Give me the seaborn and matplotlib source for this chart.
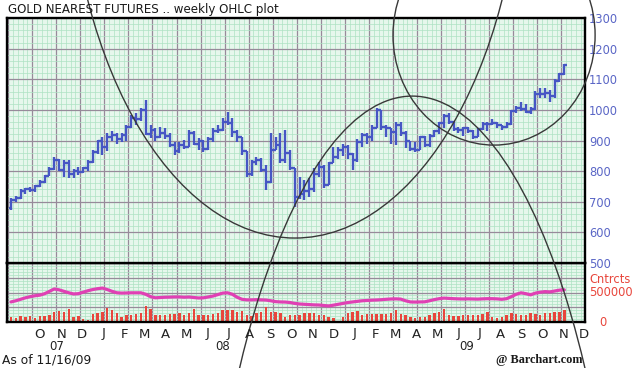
import pandas as pd
import matplotlib
matplotlib.use("Agg")
import matplotlib.pyplot as plt
import matplotlib.transforms as mtransforms
from matplotlib.patches import Ellipse
from matplotlib.ticker import MultipleLocator, NullFormatter
import seaborn as sns

# weekly OHLC, first bar = week of 2007-09-03, last = week of 2009-11-16
start = pd.Timestamp("2007-09-03")
opens = [680, 705, 712, 735, 742, 738, 750, 765, 785, 808,
         835, 805, 825, 790, 800, 797, 810, 830, 862, 897,
         880, 912, 918, 905, 918, 945, 975, 970, 1000, 920,
         935, 912, 925, 915, 885, 865, 885, 880, 925, 890,
         900, 872, 905, 930, 935, 960, 958, 928, 912, 865,
         790, 830, 835, 805, 765, 870, 885, 835, 860, 810,
         715, 725, 735, 740, 790, 815, 755, 825, 845, 870,
         880, 855, 837, 895, 918, 912, 940, 1000, 945, 940,
         928, 952, 925, 897, 872, 870, 910, 885, 915, 930,
         958, 980, 962, 938, 933, 940, 930, 912, 937, 953,
         955, 957, 949, 943, 955, 995, 1006, 1004, 992, 1004,
         1051, 1052, 1056, 1046, 1095, 1118]
highs = [712, 718, 742, 745, 748, 755, 771, 787, 813, 847,
         838, 836, 836, 806, 812, 814, 836, 869, 902, 913,
         925, 930, 923, 925, 950, 983, 990, 1006, 1033, 950,
         940, 945, 940, 923, 896, 896, 901, 934, 930, 907,
         901, 912, 940, 950, 972, 994, 972, 934, 912, 866,
         836, 847, 842, 820, 925, 912, 923, 935, 869, 810,
         782, 771, 776, 809, 830, 820, 830, 880, 880, 890,
         885, 860, 905, 925, 925, 950, 1007, 1000, 950, 940,
         960, 960, 930, 900, 895, 915, 915, 920, 935, 960,
         985, 990, 965, 945, 945, 945, 935, 940, 960, 960,
         970, 960, 950, 960, 1000, 1012, 1025, 1020, 1010, 1062,
         1072, 1070, 1065, 1100, 1120, 1150]
lows = [673, 700, 710, 725, 732, 732, 748, 761, 783, 805,
        800, 782, 776, 776, 787, 793, 800, 828, 855, 852,
        865, 900, 888, 895, 900, 940, 950, 965, 918, 907,
        900, 907, 905, 880, 852, 860, 872, 878, 885, 869,
        863, 870, 895, 923, 930, 950, 912, 896, 852, 782,
        785, 820, 798, 738, 760, 870, 825, 825, 804, 684,
        710, 706, 716, 733, 780, 745, 755, 825, 840, 850,
        840, 805, 830, 880, 890, 900, 940, 935, 910, 890,
        885, 915, 875, 865, 862, 868, 880, 880, 910, 920,
        940, 955, 930, 925, 915, 925, 905, 910, 935, 930,
        950, 940, 935, 940, 950, 990, 995, 990, 985, 1000,
        1040, 1040, 1025, 1040, 1090, 1115]
closes = [705, 712, 735, 742, 738, 750, 765, 785, 808, 835,
          805, 825, 790, 800, 797, 810, 830, 862, 897, 880,
          912, 918, 905, 918, 945, 975, 970, 1000, 920, 935,
          912, 925, 915, 885, 865, 885, 880, 925, 890, 900,
          872, 905, 930, 935, 960, 958, 928, 912, 865, 790,
          830, 835, 805, 765, 870, 885, 835, 860, 810, 715,
          725, 735, 740, 790, 815, 755, 825, 845, 870, 880,
          855, 837, 895, 918, 912, 940, 1000, 945, 940, 928,
          952, 925, 897, 872, 870, 910, 885, 915, 930, 958,
          980, 962, 938, 933, 940, 930, 912, 937, 953, 955,
          957, 949, 943, 955, 995, 1006, 1004, 992, 1004, 1051,
          1052, 1056, 1046, 1095, 1118, 1145]
# weekly volume, thousands of contracts
volume = [90, 73, 107, 90, 102, 62, 102, 102, 119, 175,
          192, 175, 220, 90, 96, 45, 34, 141, 147, 175,
          232, 203, 147, 90, 124, 119, 130, 147, 271, 215,
          119, 119, 119, 130, 130, 147, 119, 147, 215, 119,
          119, 119, 136, 147, 203, 203, 203, 175, 192, 119,
          102, 158, 175, 249, 175, 175, 158, 90, 119, 119,
          119, 147, 147, 147, 119, 119, 90, 62, 23, 90,
          147, 170, 192, 119, 130, 136, 136, 130, 136, 158,
          203, 130, 119, 79, 62, 90, 90, 119, 147, 175,
          215, 119, 102, 102, 119, 119, 119, 119, 136, 175,
          90, 62, 90, 119, 147, 136, 119, 119, 147, 136,
          119, 147, 158, 175, 175, 203]
volume = [v * 1000 for v in volume]
# open interest, thousands of contracts
open_int = [340, 360, 385, 410, 430, 445, 455, 480, 520, 560,
            545, 520, 495, 475, 480, 505, 530, 550, 565, 575,
            550, 520, 495, 490, 492, 495, 495, 495, 470, 430,
            410, 415, 420, 422, 425, 425, 420, 424, 415, 407,
            410, 425, 440, 465, 490, 495, 470, 420, 385, 375,
            375, 378, 375, 372, 360, 345, 340, 338, 330, 315,
            305, 300, 295, 290, 288, 280, 272, 285, 300, 315,
            330, 340, 350, 360, 365, 370, 373, 378, 385, 390,
            392, 388, 360, 340, 338, 340, 342, 360, 380, 395,
            405, 400, 395, 392, 390, 392, 390, 388, 392, 395,
            395, 392, 385, 395, 430, 470, 495, 480, 460, 490,
            505, 515, 510, 525, 540, 545]
open_int = [v * 1000 for v in open_int]

month_letters = ["O", "N", "D", "J", "F", "M", "A", "M", "J", "J", "A", "S",
                 "O", "N", "D", "J", "F", "M", "A", "M", "J", "J", "A", "S",
                 "O", "N", "D"]
month_dates = pd.date_range("2007-10-01", periods=27, freq="MS") + pd.Timedelta(days=14)
year_labels = ["07", "08", "09"]
year_pos = [9.4, 43.9, 94.8]  # weeks from start

# hand drawn curves: center (weeks, price), width (weeks), height (price)
curves = [((59.0, 1917), 94.8, 2671),
          ((83.4, -1126), 89.0, 4342),
          ((100.4, 1244), 42.0, 718)]

weeks = list(range(len(opens)))
month_pos = [(d - start).days / 7 for d in month_dates]

sns.set_style("white")
plt.rcParams["font.family"] = ["DejaVu Sans"]

blue = "#4656c4"
red = "#e8463c"
pink = "#e040b4"
bg = "#e6f7ec"
minor_c = "#ade2c3"
major_c = "#978a9a"

fig = plt.figure(figsize=(6.4, 3.68), dpi=100)
W, H = 640, 368
ax = fig.add_axes([7 / W, 1 - 263 / H, 578 / W, 245 / H], zorder=3)
axv = fig.add_axes([7 / W, 1 - 322 / H, 578 / W, 59 / H], zorder=2)

for a in (ax, axv):
    a.set_facecolor(bg)
    a.set_xlim(-0.83, 119.3)
    a.xaxis.set_major_locator(MultipleLocator(5, offset=4.4))
    a.xaxis.set_minor_locator(MultipleLocator(1, offset=0.4))
    a.grid(which="minor", color=minor_c, lw=0.5)
    a.grid(which="major", color=major_c, lw=0.9)
    a.set_axisbelow(True)
    a.xaxis.set_major_formatter(NullFormatter())
    a.tick_params(axis="both", which="both", length=0)
    for s in a.spines.values():
        s.set_visible(True)
        s.set_color("black")
        s.set_linewidth(1.7)

# price panel
ax.set_ylim(500, 1300)
ax.yaxis.set_major_locator(MultipleLocator(100))
ax.yaxis.set_minor_locator(MultipleLocator(20))
ax.yaxis.tick_right()
ax.tick_params(axis="y", pad=3, labelcolor="#5a66c6", labelsize=8.3)
ax.vlines(weeks, lows, highs, color=blue, lw=1.7)
ax.hlines(opens, [w - 0.5 for w in weeks], weeks, color=blue, lw=1.7)
ax.hlines(closes, weeks, [w + 0.5 for w in weeks], color=blue, lw=1.7)

for (c, wd, ht) in curves:
    ax.add_patch(Ellipse(c, wd, ht, fill=False, ec="#383838", lw=1.0,
                         clip_on=False, zorder=10))

# volume panel
axv.set_ylim(0, 1000000)
axv.yaxis.set_major_locator(MultipleLocator(250000))
axv.yaxis.set_minor_locator(MultipleLocator(50000))
axv.yaxis.set_major_formatter(NullFormatter())
axv.bar(weeks, volume, width=0.5, color=red, linewidth=0)
sns.lineplot(x=weeks, y=open_int, ax=axv, color=pink, lw=2.3)
axv.set_xlabel("")
axv.set_ylabel("")

tr = mtransforms.blended_transform_factory(axv.transAxes, axv.transData)
axv.text(1.007, 712000, "Cntrcts", transform=tr, color=red, fontsize=8.3,
         ha="left", va="center")
axv.text(1.007, 500000, "500000", transform=tr, color=red, fontsize=8.3,
         ha="left", va="center")
axv.text(1.031, 0, "0", transform=tr, color=red, fontsize=8.3,
         ha="center", va="center")

# month / year labels
tx = mtransforms.blended_transform_factory(axv.transData, fig.transFigure)
for p, m in zip(month_pos, month_letters):
    fig.text(p, 1 - 334 / H, m, transform=tx, ha="center", va="center",
             fontsize=9.5, color="#222222")
for p, y in zip(year_pos, year_labels):
    fig.text(p, 1 - 347 / H, y, transform=tx, ha="center", va="center",
             fontsize=8.5, color="#222222")

fig.text(8 / W, 1 - 9 / H, "GOLD NEAREST FUTURES .. weekly OHLC plot",
         fontsize=8.6, color="#1a1a1a", ha="left", va="center")
fig.text(2 / W, 1 - 360 / H, "As of 11/16/09", fontsize=8.8, color="#1a1a1a",
         ha="left", va="center")
fig.text(583 / W, 1 - 360 / H, "@ Barchart.com", fontsize=8.8,
         family="Liberation Serif", weight="bold", color="#1a1a1a",
         ha="right", va="center")

fig.savefig("out.png", dpi=100)
